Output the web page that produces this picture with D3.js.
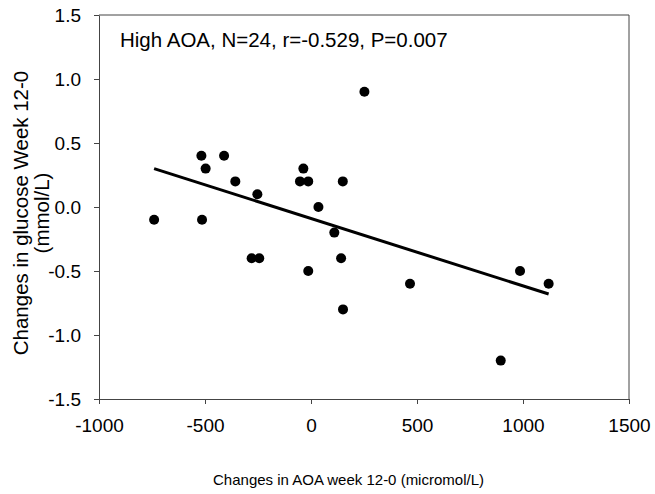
<!DOCTYPE html>
<html>
<head>
<meta charset="utf-8">
<script src="https://cdn.jsdelivr.net/npm/d3@7"></script>
<style>
  body { margin: 0; background: #fff; }
  text { font-family: "Liberation Sans", Arial, sans-serif; fill: #000; }
</style>
</head>
<body>
<div class="chart"></div>
<script>
// AOA change vs glucose change, week 12-0

var aoaChange = [-740, -517, -497, -514, -410, -357, -253, -36, -52, -13, 35, 150, 110,
                 252, -280, -244, -13, 142, 151, 467, 986, 1121, 895];
var glucoseChange = [-0.1, 0.4, 0.3, -0.1, 0.4, 0.2, 0.1, 0.3, 0.2, 0.2, 0.0, 0.2, -0.2,
                     0.9, -0.4, -0.4, -0.5, -0.4, -0.8, -0.6, -0.5, -0.6, -1.2];

// fitted line end points
var fitX = [-740, 1121];
var fitY = [0.30, -0.68];

var xTicks = [-1000, -500, 0, 500, 1000, 1500];
var yTicks = [-1.5, -1.0, -0.5, 0.0, 0.5, 1.0, 1.5];

var statsLabel = "High AOA, N=24, r=-0.529, P=0.007";

var svgWidth = 655;
var svgHeight = 494;

var margin = { top: 15, right: 26, bottom: 95, left: 99 };
var width = svgWidth - margin.left - margin.right;
var height = svgHeight - margin.top - margin.bottom;

var svg = d3.select(".chart")
    .append("svg")
    .attr("width", svgWidth)
    .attr("height", svgHeight);

var chartGroup = svg.append("g")
    .attr("transform", `translate(${margin.left}, ${margin.top})`);

var xScale = d3.scaleLinear().domain([-1000, 1500]).range([0, width]);
var yScale = d3.scaleLinear().domain([-1.5, 1.5]).range([height, 0]);

var axisColor = "#444";

// frame (top + right)
chartGroup.append("path")
    .attr("d", `M0,0H${width}V${height}`)
    .attr("fill", "none")
    .attr("stroke", axisColor)
    .attr("stroke-width", 1);

var bottomAxis = d3.axisBottom(xScale)
    .tickValues(xTicks)
    .tickSize(5)
    .tickPadding(15)
    .tickSizeOuter(0)
    .tickFormat(d3.format("d"));

var leftAxis = d3.axisLeft(yScale)
    .tickValues(yTicks)
    .tickSize(5)
    .tickPadding(13)
    .tickSizeOuter(0)
    .tickFormat(d => d3.format(".1f")(d).replace("−", "-"));

var gx = chartGroup.append("g")
    .attr("transform", `translate(0, ${height})`)
    .call(bottomAxis);

var gy = chartGroup.append("g")
    .call(leftAxis);

[gx, gy].forEach(function (g) {
    g.select(".domain").attr("stroke", axisColor);
    g.selectAll(".tick line").attr("stroke", axisColor);
    g.selectAll(".tick text")
        .attr("font-family", "Liberation Sans, Arial, sans-serif")
        .attr("font-size", 19)
        .attr("fill", "#000");
});
gx.selectAll(".tick text").text(d => d3.format("d")(d).replace("−", "-"));

// regression line
var line = d3.line()
    .x(d => xScale(d[0]))
    .y(d => yScale(d[1]));

chartGroup.append("path")
    .datum(d3.zip(fitX, fitY))
    .attr("d", line)
    .attr("fill", "none")
    .attr("stroke", "#000")
    .attr("stroke-width", 3);

// points
chartGroup.selectAll("circle")
    .data(d3.zip(aoaChange, glucoseChange))
    .enter()
    .append("circle")
    .attr("cx", d => xScale(d[0]))
    .attr("cy", d => yScale(d[1]))
    .attr("r", 5)
    .attr("fill", "#000");

// stats text
chartGroup.append("text")
    .attr("x", 21)
    .attr("y", 32)
    .attr("font-size", 20.5)
    .text(statsLabel);

// axis labels
svg.append("text")
    .attr("x", 348.5)
    .attr("y", 485)
    .attr("text-anchor", "middle")
    .attr("font-size", 15)
    .text("Changes in AOA week 12-0 (micromol/L)");

var yLabel = svg.append("text")
    .attr("transform", "translate(0, 213) rotate(-90)")
    .attr("text-anchor", "middle")
    .attr("font-size", 20.5);

yLabel.append("tspan")
    .attr("x", 0)
    .attr("y", 28)
    .text("Changes in glucose Week 12-0");

yLabel.append("tspan")
    .attr("x", 0)
    .attr("y", 49)
    .text("(mmol/L)");
</script>
</body>
</html>
